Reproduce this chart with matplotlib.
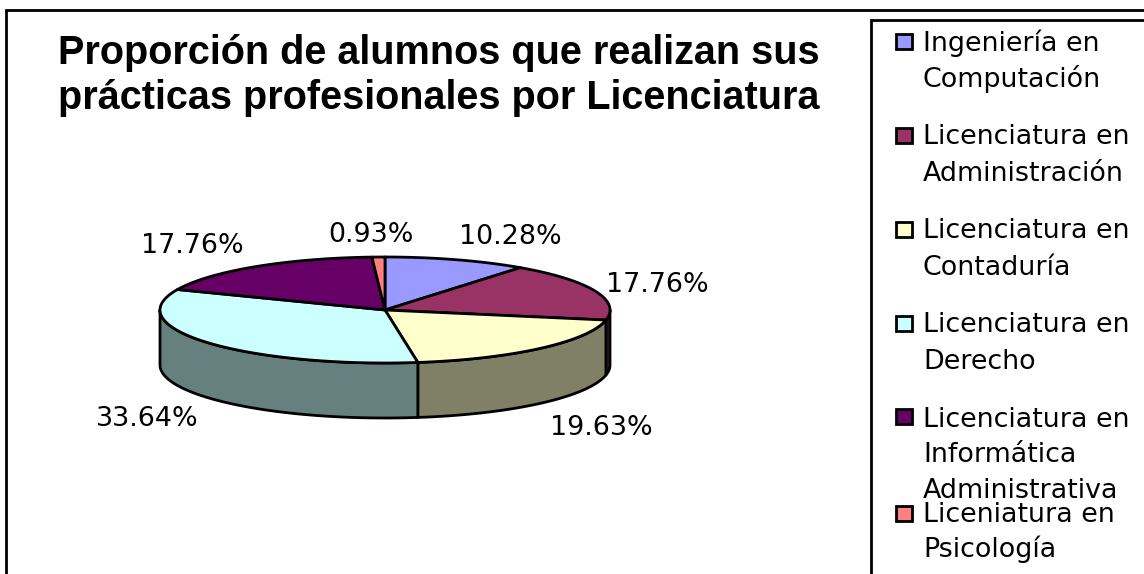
import numpy as np
import matplotlib
matplotlib.use("Agg")
import matplotlib.pyplot as plt
from matplotlib.patches import Polygon, Rectangle

categories = ["Ingeniería en\nComputación", "Licenciatura en\nAdministración", "Licenciatura en\nContaduría",
              "Licenciatura en\nDerecho", "Licenciatura en\nInformática\nAdministrativa", "Liceniatura en\nPsicología"]
values = [10.28, 17.76, 19.63, 33.64, 17.76, 0.93]
value_labels = ["10.28%", "17.76%", "19.63%", "33.64%", "17.76%", "0.93%"]
colors = ["#9999FF", "#993366", "#FFFFCC", "#CCFFFF", "#660066", "#FF8080"]
side_colors = ["#66668A", "#4D1A33", "#808066", "#668080", "#330033", "#804040"]
title = "Proporción de alumnos que realizan sus\nprácticas profesionales por Licenciatura"

plt.rcParams["font.family"] = ["Liberation Sans", "DejaVu Sans"]
WIDE = ["DejaVu Sans"]
fig = plt.figure(figsize=(11.44, 5.74), dpi=100)
ax = fig.add_axes([0, 0, 1, 1])
ax.set_xlim(0, 1144); ax.set_ylim(574, 0); ax.axis("off")

# outer frame and legend frame (their right and bottom sides fall outside the picture)
ax.add_patch(Rectangle((5.5, 10), 1200, 700, fc="white", ec="black", lw=2, zorder=1))
ax.add_patch(Rectangle((871, 20), 400, 700, fc="white", ec="black", lw=2, zorder=1))

for line, base in zip(title.split("\n"), [64, 109]):
    ax.text(439, base, line, ha="center", va="baseline", fontsize=28.5, fontweight="bold", zorder=5)

# pie geometry
cx, cy, rx, ry, depth = 385, 310, 225, 53, 55
def pt(a):
    return cx + rx*np.sin(a), cy - ry*np.cos(a)

edges = np.concatenate([[0], np.cumsum(values)]) / sum(values) * 2*np.pi
# side walls (front half only)
for i in range(len(values)):
    a0, a1 = max(edges[i], np.pi/2), min(edges[i+1], 3*np.pi/2)
    if a1 <= a0:
        continue
    t = np.linspace(a0, a1, 120)
    x, y = pt(t)
    poly = np.vstack([np.c_[x, y], np.c_[x, y+depth][::-1]])
    ax.add_patch(Polygon(poly, closed=True, fc=side_colors[i], ec="black", lw=2, joinstyle="round", zorder=2))
# top faces
for i in range(len(values)):
    t = np.linspace(edges[i], edges[i+1], 160)
    x, y = pt(t)
    poly = np.vstack([[cx, cy], np.c_[x, y]])
    ax.add_patch(Polygon(poly, closed=True, fc=colors[i], ec="black", lw=2, joinstyle="round", zorder=3))

# value labels (centre x, baseline y)
label_xy = [(510, 244), (657, 292), (601, 435), (147, 426), (192, 253), (371, 242)]
for (lx, ly), s in zip(label_xy, value_labels):
    ax.text(lx, ly, s, ha="center", va="baseline", fontsize=19.4, family=WIDE, zorder=5)

# legend
swatch_y = [41, 135, 229, 323, 416, 513]
line_y = [[51, 87], [144, 181], [238, 275], [332, 369], [427, 462, 498], [522, 557]]
for i, cat in enumerate(categories):
    ax.add_patch(Rectangle((896, swatch_y[i]-7.5), 16, 15, fc=colors[i], ec="black", lw=2, zorder=4))
    for line, y in zip(cat.split("\n"), line_y[i]):
        ax.text(923, y, line, ha="left", va="baseline", fontsize=19.4, family=WIDE, zorder=5)

fig.savefig("out.png", dpi=100)
